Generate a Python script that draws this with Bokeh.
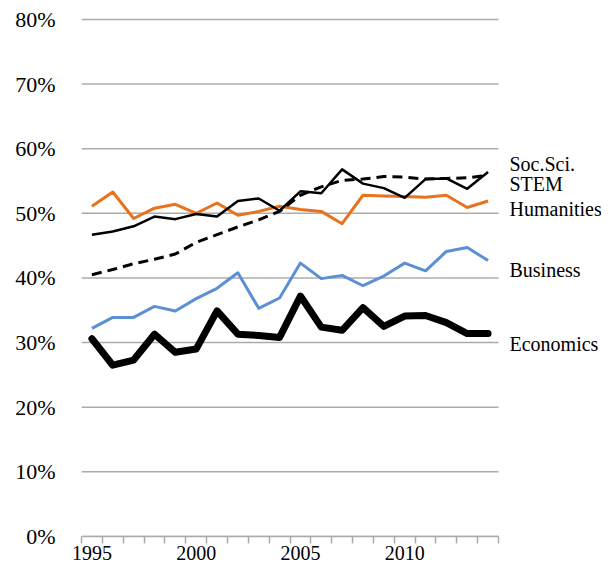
from bokeh.plotting import figure
from bokeh.models import FixedTicker, NumeralTickFormatter, Range1d
from bokeh.core.properties import value
from bokeh.embed import file_html
from bokeh.resources import INLINE

years = list(range(1995, 2015))
soc_sci = [46.7, 47.2, 48.0, 49.5, 49.1, 49.9, 49.5, 51.9, 52.3, 50.4,
           53.4, 53.1, 56.8, 54.6, 53.9, 52.4, 55.3, 55.4, 53.8, 56.4]
stem = [40.5, 41.3, 42.2, 42.9, 43.7, 45.5, 46.7, 47.9, 49.0, 50.3,
        52.8, 54.1, 55.1, 55.3, 55.7, 55.6, 55.3, 55.4, 55.5, 55.9]
humanities = [51.1, 53.3, 49.2, 50.8, 51.4, 50.0, 51.6, 49.7, 50.3, 51.1,
              50.6, 50.3, 48.4, 52.8, 52.7, 52.6, 52.5, 52.8, 50.9, 51.9]
business = [32.2, 33.9, 33.9, 35.6, 34.9, 36.8, 38.4, 40.8, 35.3, 36.9,
            42.3, 39.9, 40.4, 38.8, 40.3, 42.3, 41.1, 44.1, 44.7, 42.7]
economics = [30.6, 26.5, 27.3, 31.3, 28.5, 29.0, 34.9, 31.3, 31.1, 30.8,
             37.2, 32.4, 31.9, 35.4, 32.5, 34.1, 34.2, 33.1, 31.4, 31.4]
series_names = ["Soc.Sci.", "STEM", "Humanities", "Business", "Economics"]
year_labels = [1995, 2000, 2005, 2010]
y_ticks = [0, 0.1, 0.2, 0.3, 0.4, 0.5, 0.6, 0.7, 0.8]

def frac(vals):
    return [v / 100.0 for v in vals]

FONT = "Liberation Serif"
GRID = "#ABABAB"

x_lo, x_hi = years[0] - 0.5, years[-1] + 0.5
# frame extended to the right so the series names fit inside it
x_end = x_hi + 4.94

p = figure(width=601, height=565, output_backend="svg", toolbar_location=None,
           x_range=Range1d(x_lo, x_end),
           y_range=Range1d(0, 0.803),
           min_border_left=81, min_border_right=0, min_border_top=17,
           min_border_bottom=29)
p.outline_line_color = None
p.border_fill_color = "white"

p.xaxis.bounds = (x_lo, x_hi)
p.xaxis.ticker = FixedTicker(ticks=year_labels,
                             minor_ticks=[y - 0.5 for y in years] + [x_hi])
p.xaxis.major_tick_in = 0
p.xaxis.major_tick_out = 0
p.xaxis.minor_tick_in = 0
p.xaxis.minor_tick_out = 7
p.xaxis.minor_tick_line_color = GRID
p.xaxis.minor_tick_line_width = 1.5
p.xaxis.axis_line_color = GRID
p.xaxis.axis_line_width = 1.5
p.xaxis.major_label_text_font = FONT
p.xaxis.major_label_text_font_size = "20px"
p.xaxis.major_label_text_color = "black"
p.xaxis.major_label_standoff = 2

p.yaxis.ticker = FixedTicker(ticks=y_ticks)
p.yaxis.formatter = NumeralTickFormatter(format="0%")
p.yaxis.axis_line_color = None
p.yaxis.major_tick_line_color = None
p.yaxis.minor_tick_line_color = None
p.yaxis.major_label_text_font = FONT
p.yaxis.major_label_text_font_size = "22px"
p.yaxis.major_label_text_color = "black"
p.yaxis.major_label_standoff = 20

p.xgrid.grid_line_color = None
p.ygrid.grid_line_color = None
p.segment(x0=[x_lo] * len(y_ticks), x1=[x_hi] * len(y_ticks), y0=y_ticks, y1=y_ticks,
          line_color=GRID, line_width=1.5)

p.line(years, frac(humanities), line_color="#E8731E", line_width=3, line_join="round")
p.line(years, frac(business), line_color="#5B8FD6", line_width=3, line_join="round")
p.line(years, frac(stem), line_color="black", line_width=3, line_dash="10 6")
p.line(years, frac(soc_sci), line_color="black", line_width=2.5, line_join="round")
p.line(years, frac(economics), line_color="black", line_width=7, line_join="round",
       line_cap="round")

label_y = [0.577, 0.545, 0.506, 0.413, 0.298]
p.text(x=[x_hi] * len(series_names), y=label_y, text=series_names, x_offset=11,
       text_font=value(FONT), text_font_size="20px", text_color="black",
       text_baseline="alphabetic", text_align="left")

open("out.html", "w").write(file_html(p, INLINE))
